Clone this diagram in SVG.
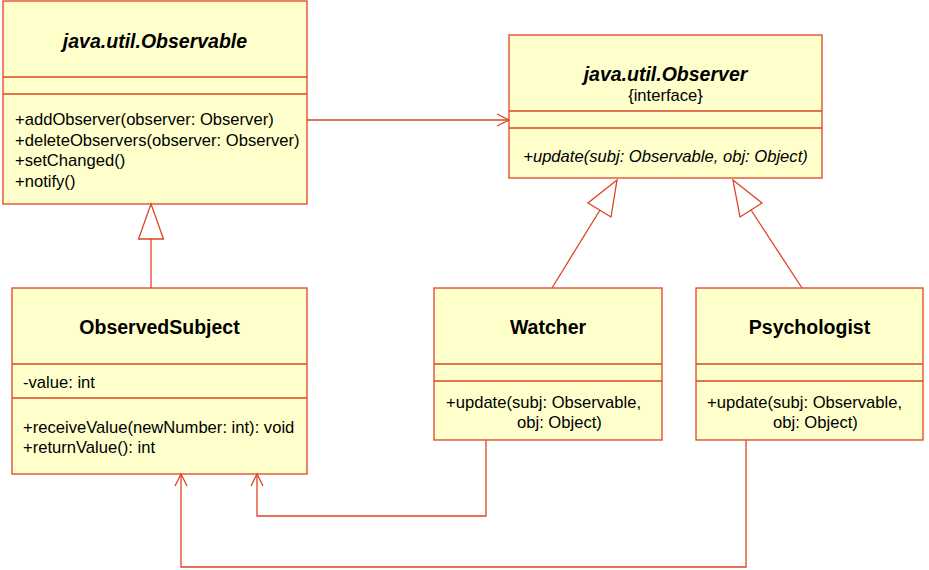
<svg xmlns="http://www.w3.org/2000/svg" width="929" height="570" viewBox="0 0 929 570">
<style>
.box{fill:#ffffcc;stroke:#dd4422;stroke-width:1.3}
.sep{stroke:#dd4422;stroke-width:1.3}
.ln{fill:none;stroke:#dd4422;stroke-width:1.3}
.tri{fill:#ffffff;stroke:#dd4422;stroke-width:1.3}
text{font-family:"Liberation Sans",Arial,sans-serif;fill:#000}
.title{font-size:19.5px;font-weight:bold;text-anchor:middle}
.it{font-style:italic}
.m{font-size:16.6px}
.c{text-anchor:middle}
</style>
<g id="observable">
<rect class="box" x="3" y="1" width="304" height="203"/>
<line class="sep" x1="3" y1="77" x2="307" y2="77"/>
<line class="sep" x1="3" y1="94" x2="307" y2="94"/>
<text class="title it" x="155" y="48">java.util.Observable</text>
<text class="m" x="15" y="125">+addObserver(observer: Observer)</text>
<text class="m" x="15" y="146">+deleteObservers(observer: Observer)</text>
<text class="m" x="15" y="166">+setChanged()</text>
<text class="m" x="15" y="187">+notify()</text>
</g>
<g id="observer">
<rect class="box" x="509" y="35" width="313" height="143"/>
<line class="sep" x1="509" y1="111" x2="822" y2="111"/>
<line class="sep" x1="509" y1="128" x2="822" y2="128"/>
<text class="title it" x="665.5" y="81">java.util.Observer</text>
<text class="m c" x="665.5" y="101">{interface}</text>
<text class="m c it" x="665.5" y="162">+update(subj: Observable, obj: Object)</text>
</g>
<g id="observedsubject">
<rect class="box" x="12" y="288" width="295" height="186"/>
<line class="sep" x1="12" y1="364" x2="307" y2="364"/>
<line class="sep" x1="12" y1="398" x2="307" y2="398"/>
<text class="title" x="159.5" y="334">ObservedSubject</text>
<text class="m" x="23" y="388">-value: int</text>
<text class="m" x="23" y="433">+receiveValue(newNumber: int): void</text>
<text class="m" x="23" y="453">+returnValue(): int</text>
</g>
<g id="watcher">
<rect class="box" x="434" y="288" width="228" height="152"/>
<line class="sep" x1="434" y1="364" x2="662" y2="364"/>
<line class="sep" x1="434" y1="381" x2="662" y2="381"/>
<text class="title" x="548" y="334">Watcher</text>
<text class="m" x="446" y="408">+update(subj: Observable,</text>
<text class="m" x="517" y="428">obj: Object)</text>
</g>
<g id="psychologist">
<rect class="box" x="696" y="288" width="227" height="152"/>
<line class="sep" x1="696" y1="364" x2="923" y2="364"/>
<line class="sep" x1="696" y1="381" x2="923" y2="381"/>
<text class="title" x="809.5" y="334">Psychologist</text>
<text class="m" x="707" y="408">+update(subj: Observable,</text>
<text class="m" x="773" y="428">obj: Object)</text>
</g>
<g id="connectors">
<line class="ln" x1="307" y1="120" x2="509" y2="120"/>
<polyline class="ln" points="497,114 509,120 497,126"/>
<line class="ln" x1="151" y1="288" x2="151" y2="239"/>
<polygon class="tri" points="151,204 138.5,239 163.5,239"/>
<line class="ln" x1="552" y1="288" x2="600" y2="210"/>
<polygon class="tri" points="617,180 588,203 611,217"/>
<line class="ln" x1="802" y1="288" x2="751" y2="210"/>
<polygon class="tri" points="733,180 762,203 740,217"/>
<polyline class="ln" points="486,440 486,516 257,516 257,474"/>
<polyline class="ln" points="251,486 257,474 263,486"/>
<polyline class="ln" points="746,440 746,567 181,567 181,474"/>
<polyline class="ln" points="175,486 181,474 187,486"/>
</g>
</svg>
